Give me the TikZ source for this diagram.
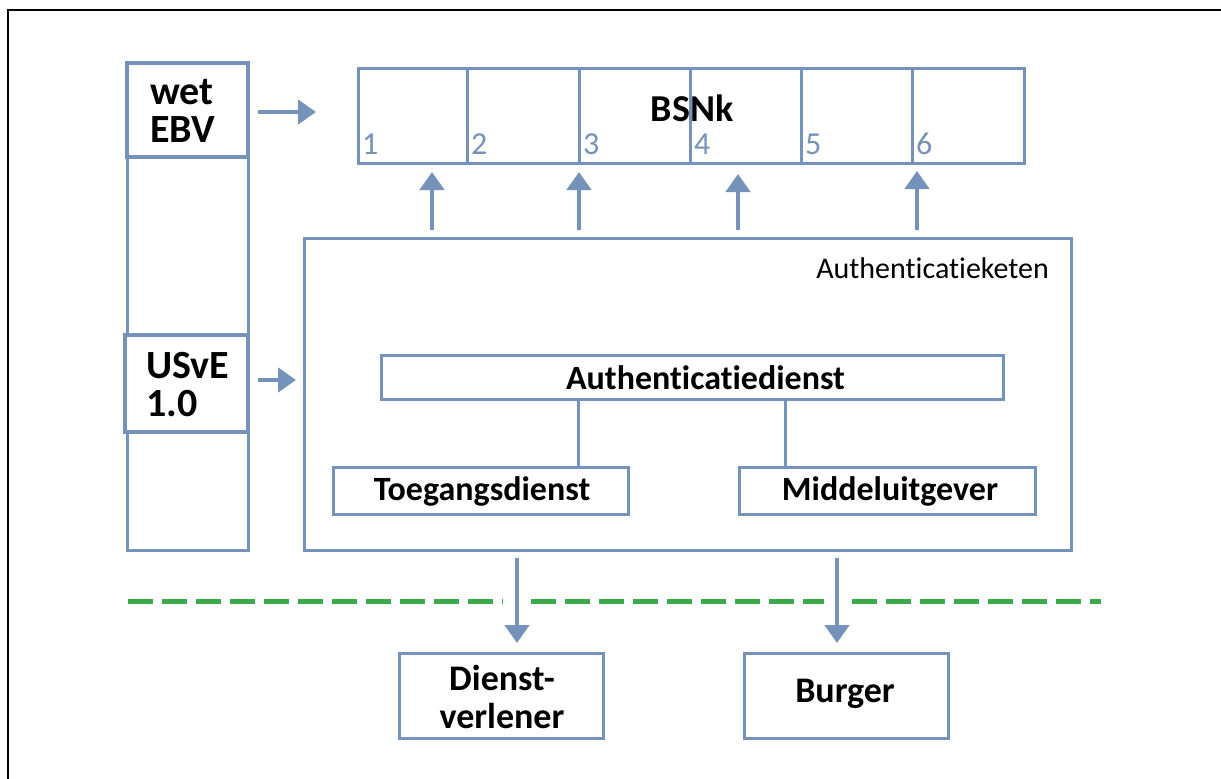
\documentclass[tikz,border=0pt]{standalone}
\usepackage{fontspec}
\setmainfont{Carlito}[Ligatures=NoCommon]
\usetikzlibrary{arrows.meta}
\definecolor{bxblue}{RGB}{117,146,187}
\definecolor{dgreen}{RGB}{58,170,74}
\begin{document}
\begin{tikzpicture}[x=1pt,y=-1pt,
  box/.style={draw=bxblue, line width=3pt, inner sep=0pt, outer sep=0pt, fill=white},
  thickbox/.style={box, line width=4.5pt},
  arr/.style={draw=bxblue, line width=4.5pt, -{Triangle[width=24pt,length=18pt]}},
  conn/.style={draw=bxblue, line width=3pt},
  sep/.style={draw=dgreen, line width=5pt, dash pattern=on 25pt off 9pt},
  lbl/.style={font=\fontsize{34}{38}\selectfont\bfseries, text=black, inner sep=0pt},
  biglbl/.style={font=\fontsize{40}{38}\selectfont\bfseries, text=black, align=left, inner sep=0pt},
  num/.style={font=\fontsize{32}{34}\selectfont, text=bxblue, inner sep=0pt},
  clbl/.style={font=\fontsize{36}{38}\selectfont\bfseries, text=black, align=center, inner sep=0pt}]
\useasboundingbox (0,0) rectangle (1221,779);
\fill[white] (0,0) rectangle (1221,779);
% frame (top and left only)
\draw[black, line width=2.5pt] (8,779) -- (8,10) -- (1221,10);

% left column
\node[box, minimum width=121pt, minimum height=487pt] (leftcol) at (187.5,306.5) {};
\node[thickbox, minimum width=121pt, minimum height=94pt] (wet) at (187.5,110) {};
\node[biglbl, anchor=west] (wettxt) at (150,111) {wet\\EBV};
\node[thickbox, minimum width=123pt, minimum height=97pt] (usve) at (186.5,383.5) {};
\node[biglbl, anchor=west] (usvetxt) at (146,385) {USvE\\1.0};

% BSNk row
\foreach \i/\l/\r in {1/358/467, 2/467/579, 3/579/690, 4/690/801, 5/801/912, 6/912/1024}{
  \node[box, minimum width={\r-\l}, minimum height=95pt] (cell\i) at ({(\l+\r)/2},116) {};
  \node[num, anchor=base west] (n\i) at ({\l+4},154) {\i};
}
\node[biglbl, font=\fontsize{38}{38}\selectfont\bfseries] (bsnk) at (692,108) {BSNk};

% Authenticatieketen
\node[box, minimum width=767pt, minimum height=312pt] (auth) at (687.5,394) {};
\node[font=\fontsize{30}{32}\selectfont, anchor=east, inner sep=0pt] (authlbl) at (1049,268) {Authenticatieketen};

\node[box, minimum width=622pt, minimum height=44pt] (adienst) at (692,377) {};
\node[lbl] (adtxt) at (705.5,378) {Authenticatiedienst};

\node[box, minimum width=295pt, minimum height=47pt] (toeg) at (480.5,490.5) {};
\node[lbl] (toegtxt) at (482,491) {Toegangsdienst};
\node[box, minimum width=296pt, minimum height=47pt] (midd) at (887.5,490.5) {};
\node[lbl] (middtxt) at (890,491) {Middeluitgever};

\draw[conn] (adienst.south -| 578,0) -- (toeg.north -| 578,0);
\draw[conn] (adienst.south -| 785,0) -- (midd.north -| 785,0);

% bottom boxes
\node[box, minimum width=204pt, minimum height=85pt] (dienst) at (501,695.5) {};
\node[clbl] (diensttxt) at (502,697) {Dienst-\\verlener};
\node[box, minimum width=204pt, minimum height=85pt] (burger) at (846,695.5) {};
\node[clbl] (burgertxt) at (845,694) {Burger};

% arrows
\coordinate (wa) at (258,112); \coordinate (wb) at (316,112);
\draw[arr] (wa) -- (wb);
\coordinate (ua) at (258,380); \coordinate (ub) at (296,380);
\draw[arr] (ua) -- (ub);
\foreach \x/\t in {432/172, 579/172, 738/174, 917/171}{
  \coordinate (s\x) at (\x,230); \coordinate (e\x) at (\x,\t);
  \draw[arr] (s\x) -- (e\x);
}
\coordinate (d1a) at (517,558); \coordinate (d1b) at (517,643);
\coordinate (d2a) at (837,558); \coordinate (d2b) at (837,643);
\draw[arr] (d1a) -- (d1b);
\draw[arr] (d2a) -- (d2b);

% separator
\draw[sep] (128,601) -- (503,601);
\draw[sep] (531,601) -- (824,601);
\draw[sep] (852,601) -- (1101,601);
\end{tikzpicture}
\end{document}
